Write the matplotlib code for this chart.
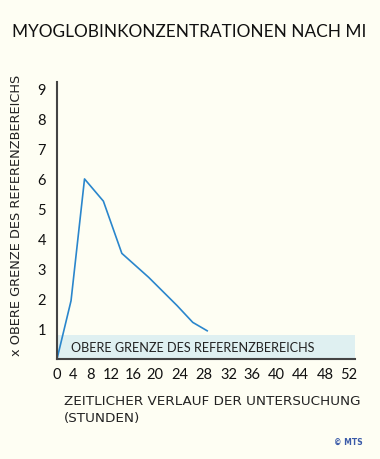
import numpy as np
import matplotlib
matplotlib.use('Agg')
import matplotlib.pyplot as plt

# data (hours after MI, multiple of upper reference limit)
hours = [0, 3.6, 6.7, 10.5, 13.9, 18.8, 23.5, 26.1, 28.5]
myoglobin = [0, 1.94, 6.0, 5.26, 3.52, 2.72, 1.78, 1.22, 0.94]
ref_upper = 0.81

x_ticks = [0, 4, 8, 12, 16, 20, 24, 28, 32, 36, 40, 44, 48, 52]
y_ticks = [1, 2, 3, 4, 5, 6, 7, 8, 9]

# the original chart squeezes the first hours; follow its tick spacing
scale_hours = x_ticks + [60]
scale_pos = [0, 15.6, 33.3, 54.3, 76.6, 98.3, 123.3, 147.3, 171.6,
             195.6, 220, 243.3, 268.3, 291.6, 341.6]


def fwd(x):
    return np.interp(x, scale_hours, scale_pos)


def inv(p):
    return np.interp(p, scale_pos, scale_hours)


bg = '#fefef3'
plt.rcParams['font.family'] = ['Lato', 'DejaVu Sans']

fig = plt.figure(figsize=(3.8, 4.6), dpi=100, facecolor=bg)
ax = fig.add_axes([57 / 380, 100 / 460, 298 / 380, 277 / 460], facecolor=bg)
ax.set_xscale('function', functions=(fwd, inv))
ax.set_xlim(0, inv(298.3))
ax.set_ylim(0, 9.23)

ax.axhspan(0, ref_upper, color='#dff0f1', zorder=0, lw=0)
ax.text(3.6, ref_upper / 2, 'OBERE GRENZE DES REFERENZBEREICHS',
        fontsize=9.1, color='#222222', va='center', ha='left')

ax.plot(hours, myoglobin, color='#2a86cc', lw=1.2)

ax.set_xticks(x_ticks)
ax.set_yticks(y_ticks)
ax.set_xticklabels([str(t) for t in x_ticks])
ax.set_yticklabels([str(t) for t in y_ticks])
ax.tick_params(length=0, labelsize=10.5, colors='#111111')
ax.tick_params(axis='x', pad=6)
ax.tick_params(axis='y', pad=8)

for s in ['top', 'right']:
    ax.spines[s].set_visible(False)
for s in ['left', 'bottom']:
    ax.spines[s].set_color('#444444')
    ax.spines[s].set_linewidth(1.5)

fig.text(12 / 380, 1 - 32 / 460, 'MYOGLOBINKONZENTRATIONEN NACH MI',
         fontsize=12.4, color='#111111', va='center', ha='left')
fig.text(17 / 380, 1 - 215 / 460, 'x OBERE GRENZE DES REFERENZBEREICHS',
         fontsize=9.3, color='#222222', rotation=90, va='center', ha='center',
         family=['DejaVu Sans'])
fig.text(64 / 380, 1 - 402 / 460, 'ZEITLICHER VERLAUF DER UNTERSUCHUNG',
         fontsize=9.7, color='#222222', va='center', ha='left',
         family=['DejaVu Sans'])
fig.text(64 / 380, 1 - 419 / 460, '(STUNDEN)',
         fontsize=9.7, color='#222222', va='center', ha='left',
         family=['DejaVu Sans'])
fig.text(363 / 380, 1 - 442 / 460, '© MTS', fontsize=5.5, color='#3a5aa8',
         fontweight='bold', va='center', ha='right', family=['DejaVu Sans'])

fig.savefig('out.png', dpi=100, facecolor=bg)
